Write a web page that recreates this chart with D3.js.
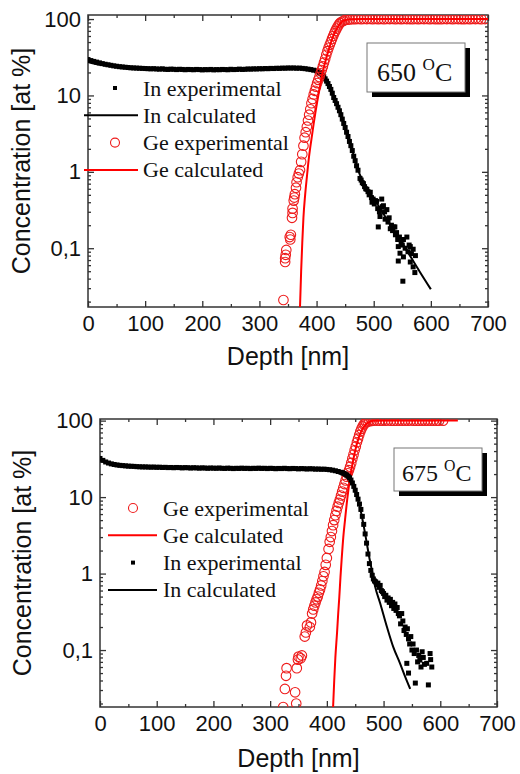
<!doctype html>
<html lang="en">
<head>
<meta charset="utf-8">
<title>In / Ge depth profiles, 650 and 675 C</title>
<style>
  body { margin: 0; background: #fff; }
  svg text { fill: #111; }
  .tick text { font-family: "Liberation Sans", Arial, sans-serif; font-size: 22px; fill: #111; }
  .axis path { display: none; }
  .axis line { stroke: #333; stroke-width: 1.3; }
  .ttl { font-family: "Liberation Sans", Arial, sans-serif; font-size: 25px; }
  .leg { font-family: "Liberation Serif", "Times New Roman", serif; font-size: 22px; }
  .temp { font-family: "Liberation Serif", "Times New Roman", serif; }
</style>
<script src="https://d3js.org/d3.v7.min.js"></script>
</head>
<body>
<div id="area"></div>
<script>
// axis ticks
var xMajor = [0, 100, 200, 300, 400, 500, 600, 700];
var yMajor = [0.1, 1, 10, 100];
var yTickLabels = ["0,1", "1", "10", "100"];

// ---- 650 C panel ----
// In experimental: flat part, drop, then scattered tail  [depth nm, at %]
var in650Exp = [[0,29.5],[5,28.6],[10,27.9],[15,27.3],[20,26.7],[25,26.1],[30,25.6],[35,25.2],[40,24.8],[45,24.4],
  [50,24.1],[55,23.8],[60,23.6],[65,23.4],[70,23.2],[75,23.0],[80,22.9],[85,22.8],[90,22.7],[95,22.6],
  [100,22.5],[105,22.4],[110,22.3],[115,22.4],[120,22.2],[125,22.1],[130,22.3],[135,22.0],[140,21.9],[145,22.1],
  [150,22.0],[155,21.8],[160,22.0],[165,21.9],[170,21.7],[175,21.9],[180,21.8],[185,21.7],[190,21.9],[195,21.8],
  [200,21.6],[205,21.8],[210,21.7],[215,21.9],[220,21.6],[225,21.8],[230,21.7],[235,21.9],[240,21.8],[245,21.7],
  [250,22.0],[255,21.8],[260,21.9],[265,22.1],[270,21.9],[275,22.0],[280,22.2],[285,22.1],[290,22.3],[295,22.2],
  [300,22.4],[305,22.3],[310,22.5],[315,22.4],[320,22.6],[325,22.5],[330,22.7],[335,22.6],[340,22.8],[345,22.7],
  [350,22.9],[355,22.8],[360,22.9],[365,22.7],[370,22.8],[375,22.6],[380,22.4],[385,22.1],[390,21.8],[395,21.4],
  [400,21.0],[402.5,20.5],[405,20.0],[407.5,19.3],[410,18.5],[412.5,17.6],[415,16.5],[417.5,15.4],[420,14.3],
  [422.5,13.1],[425,12.0],[427.5,10.7],[430,9.4],[432.5,8.6],[435,7.8],[437.5,7.0],[440,6.3],[442.5,5.6],
  [445,4.9],[447.5,4.3],[450,3.8],[452.5,3.3],[455,2.9],[457.5,2.5],[460,2.2],[462.5,1.9],[465,1.6],
  [467.5,1.4],[470,1.2],[472.5,1.05],
  [476,0.82],[478,0.78],[480,0.72],[482,0.7],[484,0.64],[486,0.6],[488,0.59],[490,0.55],[492,0.5],[494,0.54],
  [496,0.46],[497,0.40],[499,0.44],[501,0.38],[503,0.42],[505,0.41],[507,0.33],[508,0.19],[510,0.3],[511,0.26],
  [514,0.44],[515,0.35],[517,0.36],[519,0.3],[520,0.24],[523,0.32],[525,0.22],[527,0.25],[529,0.18],[531,0.2],
  [533,0.17],[535,0.19],[537,0.19],[538,0.15],[540,0.16],[542,0.13],[543,0.105],[543,0.068],[545,0.14],[546,0.086],
  [548,0.12],[550,0.11],[551,0.037],[552,0.077],[552,0.13],[555,0.1],[558,0.14],[560,0.09],[562,0.11],[564,0.105],
  [564,0.066],[566,0.085],[569,0.097],[569,0.057],[572,0.048],[573,0.08]];

var in650Calc = [[0,27.5],[10,26.2],[25,25],[50,23.8],[100,22.6],[150,22.1],[200,21.9],[250,21.9],[300,22.2],
  [350,22.7],[380,22.5],[395,21.5],[405,19.8],[415,16.5],[425,12],[435,7.8],[445,4.9],[455,2.9],[465,1.65],
  [475,0.95],[485,0.66],[500,0.45],[520,0.26],[540,0.15],[560,0.088],[580,0.05],[600,0.029]];

var ge650Exp = [[342,0.021],[345,0.066],[345,0.074],[346,0.082],[347,0.095],[353,0.14],[354,0.13],[355,0.15],
  [357,0.25],[358,0.29],[358,0.33],[360,0.42],[361,0.46],[362,0.51],[364,0.62],[365,0.73],[367,0.85],[369,0.95],
  [371,1.05],[373,1.35],[375,1.7],[377,2.2],[379,2.8],[381,3.3],[383,3.9],[385,4.7],[387,5.6],[389,6.6],
  [391,7.9],[393,9.0],[395,10.3],[397,11.5],[399,13],[401,14.5],[403,16],[405,17.5],[407,19.5],[409,21.5],
  [411,24],[413,27],[415,30],[417,34],[419,38],[421,42],[423,46],[425,50],[427,55],[429,60],[431,65],[433,70],
  [435,75],[437,80],[439,85],[441,89],[444,92],[447,95],[450,97],[454,98],[458,99],[463,99.5],
  [468,99.8],[473,100.3],[478,99.6],[483,100.1],[488,99.9],[493,100.4],[498,99.7],[503,100.2],[508,99.8],[513,100.1],
  [518,99.6],[523,100.3],[528,99.9],[533,100.2],[538,99.7],[543,100.1],[548,99.8],[553,100.4],[558,99.9],[563,100.0],
  [568,99.6],[573,100.2],[578,99.8],[583,100.3],[588,99.9],[593,100.1],[598,99.7],[603,100.2],[608,99.8],[613,100.0],
  [618,99.6],[623,100.3],[628,99.9],[633,100.1],[638,99.7],[643,100.2],[648,99.9],[653,100.0],[658,99.8],[663,100.2],
  [668,99.7],[673,100.1],[678,99.9],[683,100.2],[688,99.8],[695,100.0]];

var ge650Calc = [[371,0.017],[373,0.05],[375,0.12],[377,0.25],[380,0.5],[383,0.85],[386,1.4],[389,2.1],[392,3.0],
  [395,4.3],[398,6],[401,8.2],[404,11],[407,14.5],[410,19],[415,27],[420,37],[425,49],[430,62],[435,74],
  [440,85],[445,93],[450,97],[460,99.5],[480,100],[700,100]];

// ---- 675 C panel ----
var in675Exp = [[0,32.0],[5,30.2],[10,28.8],[15,27.9],[20,27.2],[25,26.7],[30,26.3],[35,26.0],[40,25.8],[45,25.6],
  [50,25.4],[55,25.3],[60,25.2],[65,25.0],[70,24.9],[75,24.8],[80,24.8],[85,24.7],[90,24.6],[95,24.7],
  [100,24.5],[105,24.6],[110,24.4],[115,24.5],[120,24.3],[125,24.4],[130,24.2],[135,24.4],[140,24.3],[145,24.1],
  [150,24.3],[155,24.2],[160,24.0],[165,24.2],[170,24.1],[175,23.9],[180,24.1],[185,24.0],[190,23.8],[195,24.0],
  [200,23.9],[205,23.8],[210,24.0],[215,23.8],[220,23.7],[225,23.9],[230,23.8],[235,23.6],[240,23.8],[245,23.7],
  [250,23.9],[255,23.7],[260,23.8],[265,23.6],[270,23.8],[275,23.7],[280,23.9],[285,23.7],[290,23.8],[295,23.6],
  [300,23.8],[305,23.7],[310,23.5],[315,23.7],[320,23.6],[325,23.8],[330,23.6],[335,23.5],[340,23.7],[345,23.6],
  [350,23.4],[355,23.6],[360,23.5],[365,23.3],[370,23.5],[375,23.4],[380,23.2],[385,23.3],[390,23.1],[395,23.2],
  [400,23.0],[405,22.8],[410,22.5],[415,22.1],[420,21.6],[425,21.1],[427.5,20.8],[430,20.4],[432.5,19.9],
  [435,19.4],[437.5,18.7],[440,17.9],[442.5,16.7],[445,15.3],[447.5,13.8],[450,12.3],[452.5,10.8],[455,9.4],
  [457.5,8.1],[460,6.9],[462.5,5.6],[465,4.4],[467.5,3.3],[470,2.5],[472.5,1.8],[475,1.35],[477.5,1.1],[480,0.95],
  [482,0.85],[484,0.8],[486,0.78],[488,0.72],[490,0.75],[492,0.66],[494,0.7],[496,0.6],[498,0.58],[500,0.55],
  [502,0.5],[504,0.52],[506,0.45],[508,0.48],[510,0.42],[512,0.46],[514,0.38],[516,0.42],[518,0.35],[520,0.4],
  [522,0.33],[524,0.36],[526,0.3],[528,0.28],[530,0.22],[532,0.3],[534,0.24],[536,0.18],[538,0.2],[540,0.16],
  [541,0.067],[542,0.19],[544,0.14],[544,0.05],[546,0.12],[548,0.15],[550,0.1],[552,0.12],[554,0.09],[556,0.037],
  [558,0.1],[560,0.07],[562,0.085],[564,0.074],[566,0.06],[568,0.095],[570,0.08],[572,0.065],[576,0.067],
  [579,0.035],[582,0.09],[583,0.075],[585,0.06]];

var in675Calc = [[0,30.5],[10,28],[25,26.2],[50,25.2],[100,24.4],[200,23.9],[300,23.7],[400,23.1],[420,21.8],
  [430,20.5],[440,18],[447,14.5],[453,10.5],[459,7],[465,4.2],[470,2.6],[475,1.6],[480,1.05],[485,0.68],
  [494,0.41],[506,0.2],[517,0.11],[529,0.067],[538,0.045],[547,0.031]];

var ge675Exp = [[323,0.018],[326,0.031],[328,0.046],[329,0.058],[344,0.028],[346,0.02],[347,0.058],[349,0.075],
  [350,0.082],[354,0.078],[356,0.085],[361,0.15],[363,0.17],[365,0.21],[370,0.2],[372,0.23],[374,0.3],[376,0.34],
  [378,0.38],[380,0.42],[382,0.46],[384,0.5],[386,0.56],[388,0.62],[390,0.7],[392,0.8],[394,0.92],[396,1.05],
  [398,1.3],[400,1.6],[403,2.1],[405,2.6],[407,3.0],[409,3.6],[411,4.3],[413,5.0],[415,5.8],[417,6.6],[419,7.5],
  [421,8.4],[423,9.3],[425,10.5],[427,11.8],[429,13.2],[431,14.8],[433,16.5],[435,18.5],[437,20.5],[439,22.5],
  [441,25],[443,28],[445,32],[447,36],[449,41],[451,46],[453,52],[455,58],[457,65],[459,72],[461,78],[463,84],
  [465,89],[467,92],[469,95],[472,97],[475,98.5],[479,99.3],
  [483,99.8],[488,100.2],[493,99.7],[498,100.1],[503,99.9],[508,100.3],[513,99.8],[518,100.0],[523,99.6],[528,100.2],
  [533,99.9],[538,100.1],[543,99.7],[548,100.3],[553,99.8],[558,100.0],[563,99.9],[568,100.2],[573,99.7],[578,100.1],
  [583,99.8],[588,100.2],[593,99.9],[598,100.0],[605,100.0]];

var ge675Calc = [[411,0.018],[413,0.04],[415,0.08],[418,0.17],[420,0.3],[422,0.5],[424,0.9],[426,1.5],[429,3],
  [432,5],[436,9.5],[441,18],[447,32],[453,50],[459,68],[464,80],[470,91],[476,97],[482,99.5],[500,100],[631,100]];

var svg = d3.select('#area').append('svg')
  .attr('width', 520)
  .attr('height', 774);

// draws one panel (frame, ticks, titles, series, legend, temperature box)
function drawPanel(p) {
  var x = d3.scaleLinear().domain([0, 700]).range([0, p.width]);
  var y = d3.scaleLog().domain(p.yDomain).range([p.height, 0]);

  var g = svg.append('g')
    .attr('transform', 'translate(' + p.left + ',' + p.top + ')');

  svg.append('clipPath').attr('id', p.id)
    .append('rect')
    .attr('width', p.width)
    .attr('height', p.height);

  var xMinor = x.ticks(14).filter(function(d) { return xMajor.indexOf(d) < 0; });
  var yMinor = y.ticks().filter(function(d) { return yMajor.indexOf(d) < 0; });

  // ticks point inwards on all four sides
  g.append('g').attr('class', 'axis')
    .attr('transform', 'translate(0,' + p.height + ')')
    .call(d3.axisBottom(x).tickValues(xMajor).tickSize(-6).tickPadding(8).tickFormat(d3.format('d')));
  g.append('g').attr('class', 'axis')
    .attr('transform', 'translate(0,' + p.height + ')')
    .call(d3.axisBottom(x).tickValues(xMinor).tickSize(-3).tickFormat(''));
  g.append('g').attr('class', 'axis')
    .call(d3.axisTop(x).tickValues(xMajor).tickSize(-6).tickFormat(''));
  g.append('g').attr('class', 'axis')
    .call(d3.axisTop(x).tickValues(xMinor).tickSize(-3).tickFormat(''));

  g.append('g').attr('class', 'axis')
    .call(d3.axisLeft(y).tickValues(yMajor).tickSize(-6).tickPadding(7)
      .tickFormat(function(d, i) { return yTickLabels[i]; }));
  g.append('g').attr('class', 'axis')
    .call(d3.axisLeft(y).tickValues(yMinor).tickSize(-3).tickFormat(''));
  g.append('g').attr('class', 'axis')
    .attr('transform', 'translate(' + p.width + ',0)')
    .call(d3.axisRight(y).tickValues(yMajor).tickSize(-6).tickFormat(''));
  g.append('g').attr('class', 'axis')
    .attr('transform', 'translate(' + p.width + ',0)')
    .call(d3.axisRight(y).tickValues(yMinor).tickSize(-3).tickFormat(''));

  g.append('rect')
    .attr('width', p.width)
    .attr('height', p.height)
    .attr('fill', 'none')
    .attr('stroke', '#333')
    .attr('stroke-width', 1.5);

  // axis titles
  svg.append('text').attr('class', 'ttl')
    .attr('x', p.left + p.width / 2)
    .attr('y', p.xTitleY)
    .style('text-anchor', 'middle')
    .text('Depth [nm]');
  svg.append('text').attr('class', 'ttl')
    .attr('transform', 'translate(' + p.yTitleX + ',' + (p.top + p.height / 2) + ') rotate(-90)')
    .style('text-anchor', 'middle')
    .text('Concentration [at %]');

  var line = d3.line()
    .x(function(d) { return x(d[0]); })
    .y(function(d) { return y(d[1]); })
    .curve(d3.curveMonotoneX);

  var plot = g.append('g').attr('clip-path', 'url(#' + p.id + ')');

  var drawers = {
    inExp: function() {
      plot.append('g').selectAll('rect')
        .data(p.inExp)
        .enter()
        .append('rect')
        .attr('x', function(d) { return x(d[0]) - 2.5; })
        .attr('y', function(d) { return y(d[1]) - 2.5; })
        .attr('width', 5)
        .attr('height', 5)
        .attr('fill', '#000');
    },
    inCalc: function() {
      plot.append('path').datum(p.inCalc)
        .attr('d', line)
        .attr('fill', 'none')
        .attr('stroke', '#000')
        .attr('stroke-width', 2);
    },
    geExp: function() {
      plot.append('g').selectAll('circle')
        .data(p.geExp)
        .enter()
        .append('circle')
        .attr('cx', function(d) { return x(d[0]); })
        .attr('cy', function(d) { return y(d[1]); })
        .attr('r', 4.8)
        .attr('fill', 'none')
        .attr('stroke', '#ee1c1c')
        .attr('stroke-width', 1.1);
    },
    geCalc: function() {
      plot.append('path').datum(p.geCalc)
        .attr('d', line)
        .attr('fill', 'none')
        .attr('stroke', '#ff0000')
        .attr('stroke-width', 2);
    }
  };
  p.order.forEach(function(k) { drawers[k](); });

  // legend
  var labels = { inExp: 'In experimental', inCalc: 'In calculated', geExp: 'Ge experimental', geCalc: 'Ge calculated' };
  p.order.forEach(function(k, i) {
    var ly = p.legY + i * p.legStep;
    if (k == 'inExp') {
      svg.append('rect').attr('x', p.legMark - 2).attr('y', ly - 2)
        .attr('width', 4).attr('height', 4).attr('fill', '#000');
    } else if (k == 'geExp') {
      svg.append('circle').attr('cx', p.legMark).attr('cy', ly).attr('r', 4.5)
        .attr('fill', 'none').attr('stroke', '#ee1c1c').attr('stroke-width', 1.1);
    } else {
      svg.append('line').attr('x1', p.legLine[0]).attr('x2', p.legLine[1])
        .attr('y1', ly).attr('y2', ly)
        .attr('stroke', k == 'inCalc' ? '#000' : '#ff0000')
        .attr('stroke-width', 2);
    }
    svg.append('text').attr('class', 'leg')
      .attr('x', p.legText)
      .attr('y', ly + 7.5)
      .text(labels[k]);
  });

  // temperature box with drop shadow
  var b = p.box;
  svg.append('rect').attr('x', b.x + 5).attr('y', b.y + 5).attr('width', b.w).attr('height', b.h).attr('fill', '#000');
  svg.append('rect').attr('x', b.x).attr('y', b.y).attr('width', b.w).attr('height', b.h)
    .attr('fill', '#fff').attr('stroke', '#777').attr('stroke-width', 1);
  var t = svg.append('text').attr('class', 'temp')
    .attr('x', b.tx)
    .attr('y', b.ty)
    .style('font-size', b.size + 'px');
  t.append('tspan').text(p.temp + ' ');
  t.append('tspan').attr('dy', -b.size * 0.42).style('font-size', (b.size * 0.66) + 'px').text('O');
  t.append('tspan').attr('dy', b.size * 0.42).text('C');
}

drawPanel({
  id: 'clip650', left: 88, top: 15, width: 400, height: 292,
  yDomain: [0.017, 113],
  inExp: in650Exp, inCalc: in650Calc, geExp: ge650Exp, geCalc: ge650Calc,
  order: ['inExp', 'inCalc', 'geExp', 'geCalc'],
  xTitleY: 365, yTitleX: 30,
  legY: 88, legStep: 27.3, legMark: 115, legLine: [84, 138], legText: 143,
  temp: '650',
  box: { x: 367, y: 43, w: 98, h: 49, tx: 377, ty: 81, size: 26 }
});

drawPanel({
  id: 'clip675', left: 100, top: 419, width: 397, height: 288,
  yDomain: [0.018, 105],
  inExp: in675Exp, inCalc: in675Calc, geExp: ge675Exp, geCalc: ge675Calc,
  order: ['geExp', 'geCalc', 'inExp', 'inCalc'],
  xTitleY: 767, yTitleX: 31,
  legY: 508, legStep: 27.3, legMark: 133, legLine: [108, 157], legText: 163,
  temp: '675',
  box: { x: 394, y: 448, w: 88, h: 43, tx: 402, ty: 481, size: 24 }
});
</script>
</body>
</html>
